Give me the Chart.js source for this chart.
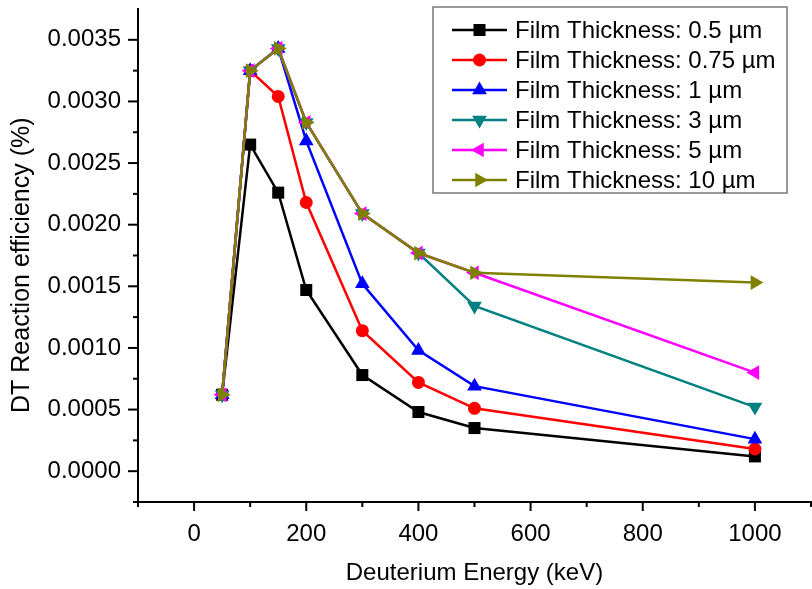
<!DOCTYPE html>
<html>
<head>
<meta charset="utf-8">
<script src="https://cdn.jsdelivr.net/npm/chart.js@4/dist/chart.umd.min.js"></script>
<style>
  body { margin: 0; background: #fff; }
  #wrap { width: 812px; height: 589px; }
</style>
</head>
<body>
<div id="wrap"><canvas id="LineChart" width="812" height="589"></canvas></div>
<script>
const energies = [50, 100, 150, 200, 300, 400, 500, 1000];

const eff_05 = [0.00062, 0.00265, 0.00226, 0.00147, 0.00078, 0.00048, 0.00035, 0.00012];
const eff_075 = [0.00062, 0.00325, 0.00304, 0.00218, 0.00114, 0.00072, 0.00051, 0.00018];
const eff_1 = [0.00062, 0.00325, 0.00343, 0.00268, 0.00152, 0.00098, 0.00069, 0.00026];
const eff_3 = [0.00062, 0.00325, 0.00343, 0.00283, 0.00209, 0.00177, 0.00134, 0.00052];
const eff_5 = [0.00062, 0.00325, 0.00343, 0.00283, 0.00209, 0.00177, 0.00161, 0.00080];
const eff_10 = [0.00062, 0.00325, 0.00343, 0.00283, 0.00209, 0.00177, 0.00161, 0.00153];

const xTickValues = [0, 200, 400, 600, 800, 1000];
const yTickValues = [0, 0.0005, 0.0010, 0.0015, 0.0020, 0.0025, 0.0030, 0.0035];

const seriesLabels = [
    'Film Thickness: 0.5 \u00b5m',
    'Film Thickness: 0.75 \u00b5m',
    'Film Thickness: 1 \u00b5m',
    'Film Thickness: 3 \u00b5m',
    'Film Thickness: 5 \u00b5m',
    'Film Thickness: 10 \u00b5m'
];
const seriesColors = ['#000000', '#ff0000', '#0000ff', '#008080', '#ff00ff', '#808000'];
const seriesShapes = ['rect', 'circle', 'triangle', 'down', 'left', 'right'];
const seriesValues = [eff_05, eff_075, eff_1, eff_3, eff_5, eff_10];

const FONT = "'Liberation Sans', Arial, sans-serif";

function styleFor(shape) {
    if (shape === 'rect') return { pointStyle: 'rect', radius: 8.5, rotation: 0 };
    if (shape === 'circle') return { pointStyle: 'circle', radius: 6.5, rotation: 0 };
    if (shape === 'triangle') return { pointStyle: 'triangle', radius: 8.5, rotation: 0 };
    if (shape === 'down') return { pointStyle: 'triangle', radius: 8.5, rotation: 180 };
    if (shape === 'left') return { pointStyle: 'triangle', radius: 8.5, rotation: 270 };
    return { pointStyle: 'triangle', radius: 8.5, rotation: 90 };
}

const datasets = seriesValues.map((vals, i) => {
    const st = styleFor(seriesShapes[i]);
    return {
        label: seriesLabels[i],
        data: energies.map((e, j) => ({ x: e, y: vals[j] })),
        borderColor: seriesColors[i],
        backgroundColor: seriesColors[i],
        borderWidth: 2.5,
        pointStyle: st.pointStyle,
        pointRadius: st.radius,
        pointRotation: st.rotation,
        pointBorderWidth: 0,
        pointBackgroundColor: seriesColors[i],
        order: 5 - i,
        tension: 0,
        clip: false
    };
});

// minor + major tick marks, pointing outwards
const tickMarks = {
    id: 'tickMarks',
    afterDraw(chart) {
        const ctx = chart.ctx;
        const xs = chart.scales.x, ys = chart.scales.y;
        const area = chart.chartArea;
        ctx.save();
        ctx.strokeStyle = '#000';
        ctx.lineWidth = 2;
        for (let k = -1; k <= 11; k++) {
            const px = xs.getPixelForValue(k * 100);
            const len = (k % 2 === 0) ? 9 : 5;
            ctx.beginPath();
            ctx.moveTo(px, area.bottom);
            ctx.lineTo(px, area.bottom + len);
            ctx.stroke();
        }
        for (let k = -1; k <= 14; k++) {
            const py = ys.getPixelForValue(k * 0.00025);
            const len = (k % 2 === 0) ? 10 : 5;
            ctx.beginPath();
            ctx.moveTo(area.left, py);
            ctx.lineTo(area.left - len, py);
            ctx.stroke();
        }
        ctx.restore();
    }
};

function drawMarker(ctx, shape, x, y, color) {
    const st = styleFor(shape);
    ctx.fillStyle = color;
    ctx.beginPath();
    if (st.pointStyle === 'rect') {
        const s = st.radius * Math.SQRT1_2;
        ctx.rect(x - s, y - s, 2 * s, 2 * s);
    } else if (st.pointStyle === 'circle') {
        ctx.arc(x, y, st.radius, 0, Math.PI * 2);
    } else {
        const r = st.radius;
        let rad = st.rotation * Math.PI / 180;
        ctx.moveTo(x + Math.sin(rad) * r, y - Math.cos(rad) * r);
        rad += 2 * Math.PI / 3;
        ctx.lineTo(x + Math.sin(rad) * r, y - Math.cos(rad) * r);
        rad += 2 * Math.PI / 3;
        ctx.lineTo(x + Math.sin(rad) * r, y - Math.cos(rad) * r);
        ctx.closePath();
    }
    ctx.fill();
}

const boxLegend = {
    id: 'boxLegend',
    afterDraw(chart) {
        const ctx = chart.ctx;
        const bx = 433, by = 7, bw = 354, bh = 186;
        ctx.save();
        ctx.fillStyle = '#fff';
        ctx.fillRect(bx, by, bw, bh);
        ctx.strokeStyle = '#777';
        ctx.lineWidth = 1.5;
        ctx.strokeRect(bx, by, bw, bh);
        ctx.font = '24px ' + FONT;
        ctx.textBaseline = 'middle';
        seriesLabels.forEach((lab, i) => {
            const cy = 30 + i * 30;
            ctx.strokeStyle = seriesColors[i];
            ctx.lineWidth = 2.5;
            ctx.beginPath();
            ctx.moveTo(452, cy);
            ctx.lineTo(507, cy);
            ctx.stroke();
            drawMarker(ctx, seriesShapes[i], 479.5, cy, seriesColors[i]);
            ctx.fillStyle = '#000';
            ctx.fillText(lab, 515, cy + 1);
        });
        ctx.restore();
    }
};

const config_line = {
    type: 'line',
    data: { datasets: datasets },
    options: {
        responsive: false,
        animation: false,
        layout: { autoPadding: false, padding: { top: 9, right: 1, left: 0, bottom: 0 } },
        plugins: {
            legend: { display: false },
            tooltip: { enabled: false }
        },
        scales: {
            x: {
                type: 'linear',
                min: -100,
                max: 1100,
                afterFit: (s) => { s.height = 87; s.paddingLeft = 0; s.paddingRight = 0; },
                afterBuildTicks: (s) => { s.ticks = xTickValues.map(v => ({ value: v })); },
                grid: { display: false },
                border: { display: true, color: '#000', width: 2 },
                ticks: {
                    padding: 10,
                    color: '#000',
                    font: { family: FONT, size: 24 },
                    maxRotation: 0,
                    autoSkip: false,
                    callback: (v) => String(v)
                },
                title: {
                    display: true,
                    text: 'Deuterium Energy (keV)',
                    color: '#000',
                    font: { family: FONT, size: 24, lineHeight: 1.2 },
                    padding: { top: 0, bottom: 1 }
                }
            },
            y: {
                type: 'linear',
                min: -0.00025,
                max: 0.00375,
                afterFit: (s) => { s.width = 138; s.paddingTop = 0; s.paddingBottom = 0; },
                afterBuildTicks: (s) => { s.ticks = yTickValues.map(v => ({ value: v })); },
                grid: { display: false },
                border: { display: true, color: '#000', width: 2 },
                ticks: {
                    padding: 9,
                    color: '#000',
                    font: { family: FONT, size: 24 },
                    autoSkip: false,
                    callback: (v) => v.toFixed(4)
                },
                title: {
                    display: true,
                    text: 'DT Reaction efficiency (%)\u2002 ',
                    color: '#000',
                    font: { family: FONT, size: 25, lineHeight: 1.2 },
                    padding: { top: 7, bottom: 0 }
                }
            }
        }
    },
    plugins: [tickMarks, boxLegend]
};

const myChart_Line = new Chart(
    document.getElementById('LineChart'),
    config_line
);
</script>
</body>
</html>
